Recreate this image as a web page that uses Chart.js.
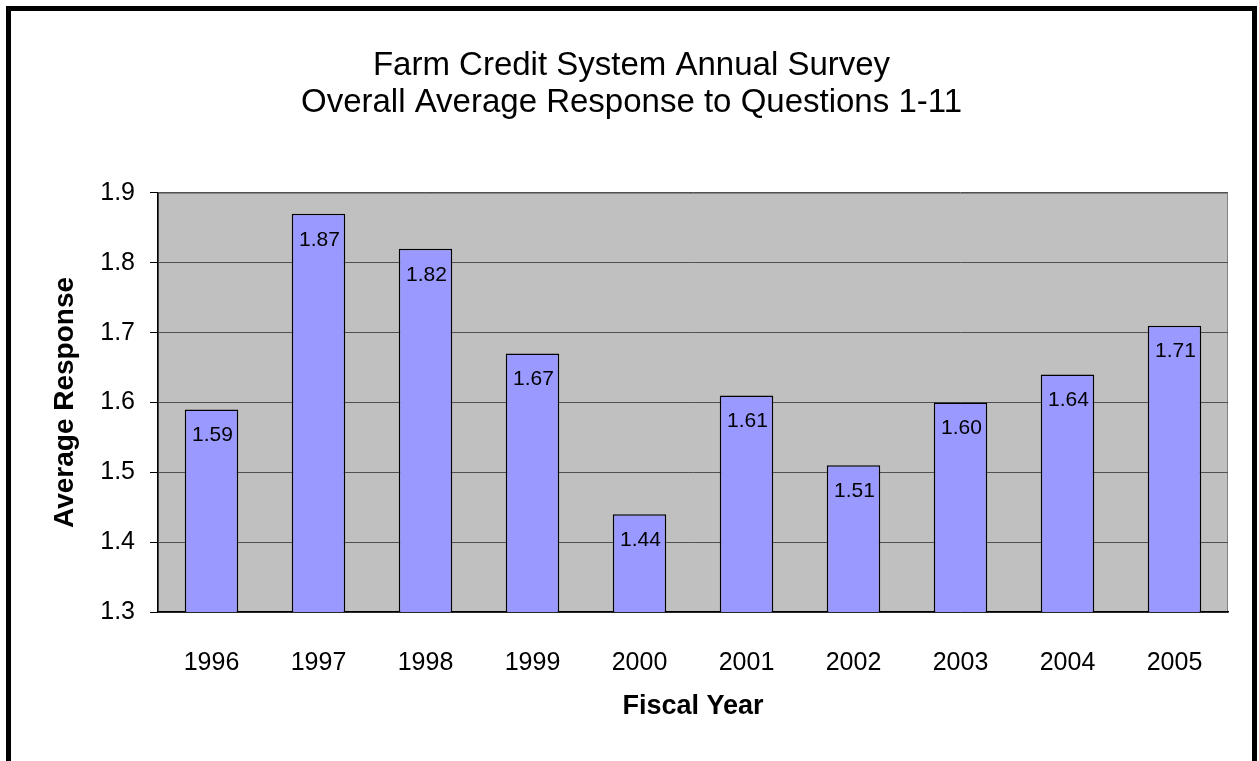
<!DOCTYPE html>
<html>
<head>
<meta charset="utf-8">
<script src="https://cdn.jsdelivr.net/npm/chart.js@4"></script>
<style>
  html, body { margin: 0; padding: 0; background: #fff; overflow: hidden; }
  #frame {
    position: absolute; left: 6px; top: 6px;
    width: 1241px; height: 800px;
    border: 5px solid #000; background: #fff;
  }
  canvas { display: block; }
</style>
</head>
<body>
<div id="frame"><canvas id="surveyChart" width="1241" height="750"></canvas></div>
<script>
// chart data
const years = ['1996', '1997', '1998', '1999', '2000', '2001', '2002', '2003', '2004', '2005'];
const avgResponse = [1.59, 1.87, 1.82, 1.67, 1.44, 1.61, 1.51, 1.60, 1.64, 1.71];
const titleLines = ['Farm Credit System Annual Survey', 'Overall Average Response to Questions 1-11'];
const yMin = 1.3, yMax = 1.9, yStep = 0.1;

const FONT = '"Liberation Sans", Arial, Helvetica, sans-serif';

// gray plot background with thin outline
const plotBackground = {
    id: 'plotBackground',
    beforeDraw(chart) {
        const { ctx, chartArea: a } = chart;
        ctx.save();
        ctx.fillStyle = '#C0C0C0';
        ctx.fillRect(a.left, a.top, a.right - a.left, a.bottom - a.top);
        ctx.strokeStyle = '#808080';
        ctx.lineWidth = 1;
        ctx.strokeRect(a.left + 0.5, a.top + 0.5, a.right - a.left - 1, a.bottom - a.top - 1);
        ctx.restore();
    }
};

// value labels inside top of each bar
const barLabels = {
    id: 'barLabels',
    afterDatasetsDraw(chart) {
        const { ctx } = chart;
        const meta = chart.getDatasetMeta(0);
        ctx.save();
        ctx.font = '21px ' + FONT;
        ctx.fillStyle = '#000';
        ctx.textAlign = 'center';
        ctx.textBaseline = 'middle';
        meta.data.forEach((bar, i) => {
            ctx.fillText(avgResponse[i].toFixed(2), bar.x + 1, bar.y + 26);
        });
        ctx.restore();
    }
};

const ctx = document.getElementById('surveyChart').getContext('2d');
new Chart(ctx, {
    type: 'bar',
    data: {
        labels: years,
        datasets: [{
            data: avgResponse,
            backgroundColor: '#9999FF',
            borderColor: '#000',
            borderWidth: 1.5,
            barPercentage: 0.5,
            categoryPercentage: 1.0
        }]
    },
    options: {
        responsive: false,
        animation: false,
        layout: { padding: 0 },
        plugins: {
            legend: { display: false },
            tooltip: { enabled: false },
            title: {
                display: true,
                text: titleLines,
                color: '#000',
                font: { family: FONT, size: 33, weight: 'normal', lineHeight: 1.12 },
                padding: { top: 36, bottom: 72 }
            }
        },
        scales: {
            x: {
                grid: { display: false },
                border: { color: '#000', width: 1.5 },
                ticks: { color: '#000', padding: 28, font: { family: FONT, size: 25, lineHeight: 1.2 } },
                title: {
                    display: true,
                    text: 'Fiscal Year',
                    color: '#000',
                    font: { family: FONT, size: 27, weight: 'bold', lineHeight: 1.2 },
                    padding: { top: 38, bottom: 38 }
                },
                afterFit(scale) { scale.height = 149; }
            },
            y: {
                min: yMin,
                max: yMax,
                grid: { color: '#505050', tickColor: '#000', tickLength: 8, lineWidth: 1 },
                border: { color: '#000', width: 1.5 },
                ticks: {
                    stepSize: yStep,
                    color: '#000',
                    padding: 15,
                    font: { family: FONT, size: 25 },
                    callback: (v) => v.toFixed(1)
                },
                title: {
                    display: true,
                    text: 'Average Response',
                    color: '#000',
                    font: { family: FONT, size: 28, weight: 'bold', lineHeight: 1.2 },
                    padding: { top: 37, bottom: 37 }
                },
                afterFit(scale) { scale.width = 147; }
            },
            // empty right axis, only keeps white space right of the plot
            yRight: {
                position: 'right',
                grid: { display: false },
                border: { display: false },
                ticks: { display: false },
                afterFit(scale) { scale.width = 24; }
            }
        }
    },
    plugins: [plotBackground, barLabels]
});
</script>
</body>
</html>
